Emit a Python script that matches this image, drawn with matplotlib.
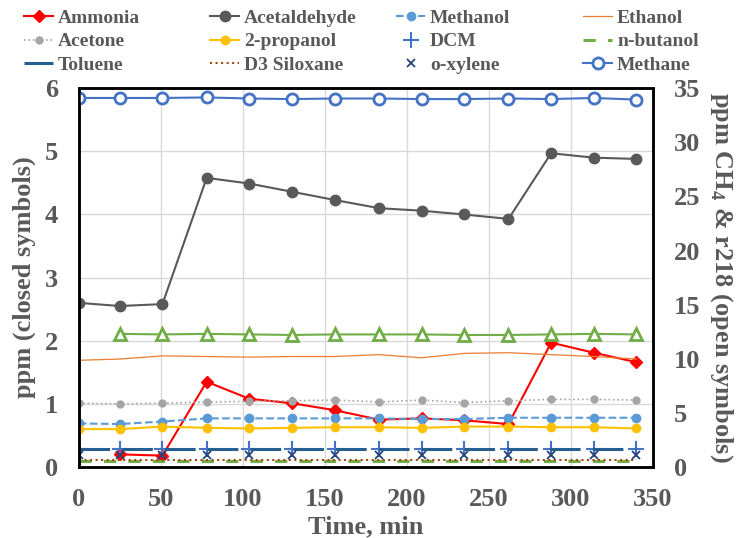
import numpy as np
import matplotlib.pyplot as plt

plt.rcParams['font.family'] = ['Liberation Serif', 'DejaVu Serif']
plt.rcParams['font.weight'] = 'bold'
plt.rcParams['mathtext.fontset'] = 'custom'
plt.rcParams['mathtext.rm'] = 'Liberation Serif'
plt.rcParams['mathtext.bf'] = 'Liberation Serif:bold'

time = [0, 25, 51, 78, 104, 130, 156, 183, 209, 235, 262, 288, 314, 340]

# left axis (closed symbols)
ammonia = [np.nan, 0.20, 0.18, 1.35, 1.08, 1.01, 0.90, 0.75, 0.77, 0.74, 0.68, 1.97, 1.81, 1.66]
acetaldehyde = [2.60, 2.55, 2.58, 4.58, 4.49, 4.36, 4.23, 4.10, 4.06, 4.00, 3.93, 4.97, 4.90, 4.88]
methanol = [0.69, 0.68, 0.72, 0.77, 0.77, 0.77, 0.77, 0.77, 0.76, 0.76, 0.78, 0.78, 0.78, 0.78]
ethanol = [1.69, 1.71, 1.76, 1.75, 1.74, 1.75, 1.75, 1.78, 1.73, 1.80, 1.81, 1.78, 1.75, 1.71]
acetone = [1.01, 1.00, 1.01, 1.03, 1.04, 1.05, 1.06, 1.03, 1.06, 1.02, 1.05, 1.07, 1.07, 1.06]
propanol = [0.60, 0.60, 0.64, 0.62, 0.61, 0.62, 0.63, 0.63, 0.62, 0.64, 0.64, 0.63, 0.63, 0.61]
dcm = [0.29] * 14
butanol = [0.10] * 14
toluene = [0.28] * 14
siloxane = [0.11] * 14
xylene = [0.19] * 14

# right axis (open symbols)
methane = [34.1, 34.1, 34.1, 34.15, 34.05, 34.0, 34.05, 34.05, 34.0, 34.0, 34.05, 34.0, 34.1, 33.95]
r218 = [np.nan, 12.3, 12.25, 12.3, 12.25, 12.2, 12.25, 12.25, 12.25, 12.2, 12.2, 12.25, 12.3, 12.25]

grey = '#595959'

fig = plt.figure(figsize=(7.36, 5.38), dpi=100)
ax = fig.add_axes([0.107, 0.132, 0.78, 0.704])
ax2 = ax.twinx()

h = {}
h['Ammonia'], = ax.plot(time, ammonia, color='#FF0000', marker='D', ms=6, lw=1.5)
h['Acetaldehyde'], = ax.plot(time, acetaldehyde, color=grey, marker='o', ms=7.5, lw=1.5)
h['Methanol'], = ax.plot(time, methanol, color='#5B9BD5', marker='o', ms=6, lw=1.5, ls='--')
h['Ethanol'], = ax.plot(time, ethanol, color='#ED7D31', lw=0.9)
h['Acetone'], = ax.plot(time, acetone, color='#A5A5A5', marker='o', ms=5, lw=1.2, ls=':')
h['2-propanol'], = ax.plot(time, propanol, color='#FFC000', marker='o', ms=6, lw=1.5)
h['DCM'], = ax.plot(time, dcm, color='#4472C4', marker='+', ms=12, mew=1.5, ls='none')
h['n-butanol'], = ax.plot(time, butanol, color='#70AD47', lw=2.2, ls=(0, (4, 4)))
h['Toluene'], = ax.plot(time, toluene, color='#255E91', lw=2.2, ls=(0, (10, 4)))
h['D3 Siloxane'], = ax.plot(time, siloxane, color='#9E480E', lw=1.5, ls=':')
h['o-xylene'], = ax.plot(time, xylene, color='#264478', marker='x', ms=6, mew=1.3, ls='none')

h['Methane'], = ax2.plot(time, methane, color='#4472C4', marker='o', ms=8, mfc='white', mew=2, lw=1.5)
ax2.plot(time, r218, color='#70AD47', marker='^', ms=9, mfc='white', mew=2, lw=1.5)

ax.set_xlim(0, 350)
ax.set_ylim(0, 6)
ax2.set_ylim(0, 35)
ax.set_xticks(np.arange(0, 351, 50))
ax.set_yticks(np.arange(0, 7, 1))
ax2.set_yticks(np.arange(0, 36, 5))
ax.grid(True, color='#D9D9D9', lw=1)
ax.set_axisbelow(True)

for a in (ax, ax2):
    a.tick_params(length=0, labelsize=19, labelcolor=grey, pad=15)
    for s in a.spines.values():
        s.set_color('black')
        s.set_linewidth(1.8)
    for t in a.get_xticklabels() + a.get_yticklabels():
        t.set_fontweight('bold')

ax.set_xlabel('Time, min', fontsize=19, color=grey, fontweight='bold', labelpad=3)
ax.set_ylabel('ppm (closed symbols)', fontsize=19, color=grey, fontweight='bold', labelpad=6)
ax2.set_ylabel('ppm CH$_\\mathbf{4}$ & r218 (open symbols)', fontsize=19, color=grey,
               fontweight='bold', rotation=-90, va='bottom', labelpad=6)

# legend: 4 columns placed like the reference
columns = [['Ammonia', 'Acetone', 'Toluene'],
           ['Acetaldehyde', '2-propanol', 'D3 Siloxane'],
           ['Methanol', 'DCM', 'o-xylene'],
           ['Ethanol', 'n-butanol', 'Methane']]
col_x = [24, 210, 396, 583]
for names, x in zip(columns, col_x):
    fig.legend([h[k] for k in names], names, loc='upper left',
               bbox_to_anchor=(x / 736, 1 - 9 / 538), ncol=1, frameon=False,
               labelcolor=grey, handlelength=1.5, handletextpad=0.25,
               labelspacing=0.32, borderpad=0, borderaxespad=0,
               prop={'weight': 'bold', 'size': 14})

fig.savefig('out.png', dpi=100)
